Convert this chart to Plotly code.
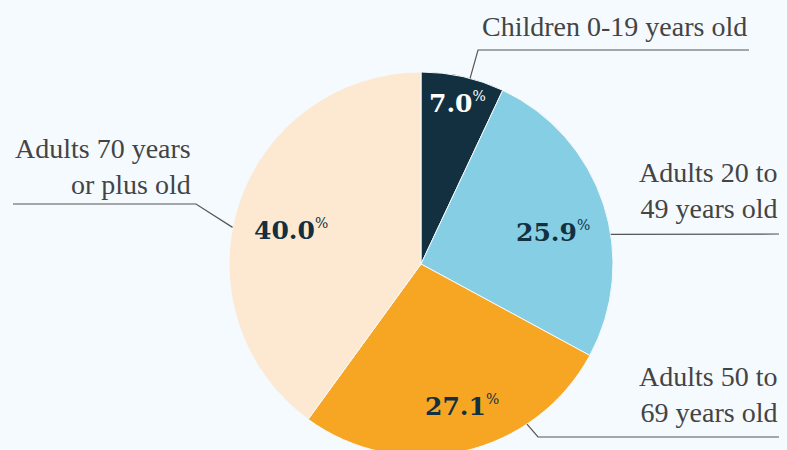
import math
import plotly.graph_objects as go

# data
groups = [
    "Children 0-19 years old",
    "Adults 20 to 49 years old",
    "Adults 50 to 69 years old",
    "Adults 70 years or plus old",
]
label_text = [
    "Children 0-19 years old",
    "Adults 20 to<br>49 years old",
    "Adults 50 to<br>69 years old",
    "Adults 70 years<br>or plus old",
]
shares = [7.0, 25.9, 27.1, 40.0]

COLORS = ["#12303F", "#85CEE4", "#F6A623", "#FDE9D1"]
TEXT_COLORS = ["#FFFFFF", "#12303F", "#12303F", "#12303F"]
BG = "#F4FAFD"

# figure is a bit taller than the window so the pie runs off the bottom edge
W, H = 787, 460
CX, CY, R = 421, 264, 192  # pixel centre / radius of the pie


def px(x, y):
    return x / W, 1 - y / H


fig = go.Figure(go.Pie(
    labels=groups,
    values=shares,
    sort=False,
    direction="clockwise",
    rotation=0,
    marker=dict(colors=COLORS, line=dict(color=BG, width=1)),
    textinfo="none",
    hoverinfo="label+percent",
    showlegend=False,
    domain=dict(x=[(CX - R) / W, (CX + R) / W],
                y=[1 - (CY + R) / H, 1 - (CY - R) / H]),
))

# percentage labels: radius fraction and angle nudge (deg) per slice
pct_style = [(0.86, 0.3), (0.71, 4.5), (0.77, -3.4), (0.70, -3.3)]
start = 0.0
for val, col, (rf, nudge) in zip(shares, TEXT_COLORS, pct_style):
    mid = (start + val / 2) / sum(shares) * 360 + nudge
    start += val
    a = math.radians(mid)
    x, y = px(CX + rf * R * math.sin(a), CY - rf * R * math.cos(a))
    fig.add_annotation(
        text=f"<b>{val:.1f}</b><sup><span style='font-size:14px'>%</span></sup>",
        x=x, y=y, xref="paper", yref="paper",
        xanchor="center", yanchor="middle", showarrow=False,
        font=dict(family="DejaVu Serif", size=25, color=col),
    )

# outside labels: right edge, vertical centre (px)
label_pos = [(749, 27), (779, 191), (779, 394), (193, 166)]
# leader lines: angle where it leaves the pie, then elbow points (px)
leaders = [
    (14.8, [(478, 50), (749, 50)]),
    (81.1, [(779, 234)]),
    (146.5, [(538, 437), (779, 437)]),
    (281.0, [(196, 204), (13, 204)]),
]

for txt, (x, y) in zip(label_text, label_pos):
    ax, ay = px(x, y)
    fig.add_annotation(
        text=txt, x=ax, y=ay, xref="paper", yref="paper",
        xanchor="right", yanchor="middle", align="right", showarrow=False,
        font=dict(family="Liberation Serif", size=28, color="#444444"),
    )

for ang, pts in leaders:
    a = math.radians(ang)
    sx, sy = CX + R * math.sin(a), CY - R * math.cos(a)
    path_pts = [px(sx, sy)] + [px(x, y) for x, y in pts]
    path = "M " + " L ".join(f"{x:.4f},{y:.4f}" for x, y in path_pts)
    fig.add_shape(type="path", path=path, xref="paper", yref="paper",
                  line=dict(color="#555555", width=1.2))

fig.update_layout(
    width=W, height=H,
    margin=dict(l=0, r=0, t=0, b=0),
    paper_bgcolor=BG,
    plot_bgcolor=BG,
)
fig.write_html(
    "out.html",
    config={"displayModeBar": False},
    post_script="document.body.style.margin='0';"
                "document.body.style.overflow='hidden';"
                f"document.body.style.background='{BG}';",
)
